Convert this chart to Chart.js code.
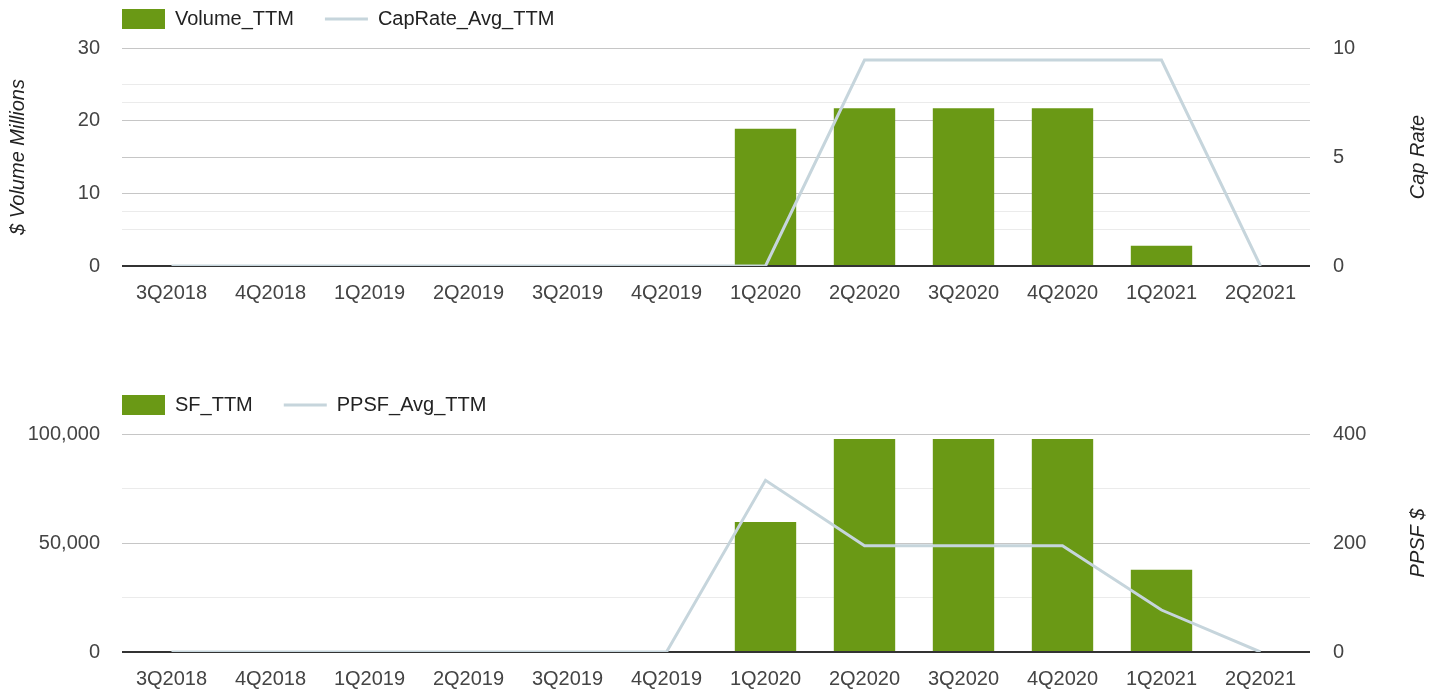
<!DOCTYPE html>
<html>
<head>
<meta charset="utf-8">
<script src="https://cdn.jsdelivr.net/npm/chart.js@4.4.0/dist/chart.umd.min.js"></script>
<style>
    body { margin: 0; background: #fff; overflow: hidden; }
    .wrap { position: absolute; left: 0; width: 1440px; height: 339px; }
    canvas { display: block; }
</style>
</head>
<body>
<div class="wrap" style="top:-13px"><canvas id="volumeChart" width="1440" height="339"></canvas></div>
<div class="wrap" style="top:373px"><canvas id="sfChart" width="1440" height="339"></canvas></div>
<script>
// values
const quarters = ['3Q2018', '4Q2018', '1Q2019', '2Q2019', '3Q2019', '4Q2019',
    '1Q2020', '2Q2020', '3Q2020', '4Q2020', '1Q2021', '2Q2021'];
const volumeTTM = [0, 0, 0, 0, 0, 0, 18.9, 21.7, 21.7, 21.7, 2.8, 0];
const capRateAvgTTM = [0, 0, 0, 0, 0, 0, 0, 9.45, 9.45, 9.45, 9.45, 0];
const sfTTM = [0, 0, 0, 0, 0, 0, 59600, 97700, 97700, 97700, 37700, 0];
const ppsfAvgTTM = [0, 0, 0, 0, 0, 0, 315, 195, 195, 195, 77, 0];

const barColor = '#6a9915';
const lineColor = '#c6d5dc';
const tickColor = '#444';
const textColor = '#222';

Chart.defaults.font.family = "'Liberation Sans', Arial, sans-serif";
Chart.defaults.font.size = 20;

function gridColor(major) {
    return function (ctx) {
        const v = ctx.tick.value;
        if (v === 0) return '#333';
        return v % major === 0 ? '#c6c6c6' : '#ebebeb';
    };
}

function gridWidth(ctx) {
    return ctx.tick.value === 0 ? 2 : 1;
}

// moves the legend to line up with the plot, draws the right axis title bottom-to-top
const layoutPlugin = {
    id: 'layoutTweaks',
    afterLayout: function (chart) {
        chart.legend.left += 91;
        chart.legend.right += 91;
        chart.legend.top -= 9;
        chart.legend.bottom -= 9;
    },
    afterDraw: function (chart) {
        const title = chart.options.plugins.layoutTweaks.rightTitle;
        const ctx = chart.ctx;
        const area = chart.chartArea;
        ctx.save();
        ctx.translate(1418, (area.top + area.bottom) / 2);
        ctx.rotate(-Math.PI / 2);
        ctx.font = "italic 20px 'Liberation Sans', Arial, sans-serif";
        ctx.fillStyle = textColor;
        ctx.textAlign = 'center';
        ctx.textBaseline = 'middle';
        ctx.fillText(title, 0, 0);
        ctx.restore();
    }
};

function makeChart(id, opts) {
    const ctx = document.getElementById(id).getContext('2d');
    return new Chart(ctx, {
        type: 'bar',
        data: {
            labels: quarters,
            datasets: [{
                type: 'bar',
                label: opts.barName,
                data: opts.barData,
                backgroundColor: barColor,
                borderWidth: 0,
                barPercentage: 0.62,
                categoryPercentage: 1,
                yAxisID: 'y',
                order: 2
            }, {
                type: 'line',
                label: opts.lineName,
                data: opts.lineData,
                borderColor: lineColor,
                backgroundColor: lineColor,
                borderWidth: 3,
                pointRadius: 0,
                tension: 0,
                yAxisID: 'y1',
                order: 1
            }]
        },
        options: {
            responsive: false,
            animation: false,
            layout: { padding: { top: 0, right: 0, bottom: 6, left: 0 } },
            plugins: {
                legend: {
                    position: 'top',
                    align: 'start',
                    labels: {
                        usePointStyle: true,
                        pointStyleWidth: 43,
                        boxHeight: 21,
                        padding: 31,
                        color: textColor,
                        font: { size: 20 },
                        generateLabels: function (chart) {
                            const items = Chart.defaults.plugins.legend.labels.generateLabels(chart);
                            items.sort(function (a, b) { return a.datasetIndex - b.datasetIndex; });
                            items.forEach(function (it) {
                                it.pointStyle = it.datasetIndex === 0 ? 'rect' : 'line';
                            });
                            return items;
                        }
                    }
                },
                tooltip: { enabled: false },
                layoutTweaks: { rightTitle: opts.rightTitle }
            },
            scales: {
                x: {
                    grid: { display: false, drawTicks: false },
                    border: { display: false },
                    ticks: { color: tickColor, padding: 15, maxRotation: 0, autoSkip: false }
                },
                y: {
                    position: 'left',
                    min: 0,
                    max: opts.leftMax,
                    afterFit: function (scale) { scale.width = 122; },
                    ticks: {
                        stepSize: opts.leftStep,
                        color: tickColor,
                        padding: 22,
                        callback: function (v) {
                            return v % opts.leftMajor === 0 ? v.toLocaleString('en-US') : '';
                        }
                    },
                    grid: { color: gridColor(opts.leftMajor), lineWidth: gridWidth, drawTicks: false, z: -1 },
                    border: { display: false },
                    title: {
                        display: opts.leftTitle !== '',
                        text: opts.leftTitle,
                        color: textColor,
                        font: { size: 20, style: 'italic' },
                        padding: { top: 6, bottom: 0 }
                    }
                },
                y1: {
                    position: 'right',
                    min: 0,
                    max: opts.rightMax,
                    afterFit: function (scale) { scale.width = 130; },
                    ticks: {
                        stepSize: opts.rightStep,
                        color: tickColor,
                        padding: 23,
                        callback: function (v) {
                            return v % opts.rightMajor === 0 ? v.toLocaleString('en-US') : '';
                        }
                    },
                    grid: { color: gridColor(opts.rightMajor), lineWidth: gridWidth, drawTicks: false },
                    border: { display: false }
                }
            }
        },
        plugins: [layoutPlugin]
    });
}

makeChart('volumeChart', {
    barName: 'Volume_TTM', barData: volumeTTM,
    lineName: 'CapRate_Avg_TTM', lineData: capRateAvgTTM,
    leftMax: 30, leftStep: 5, leftMajor: 10, leftTitle: '$ Volume Millions',
    rightMax: 10, rightStep: 2.5, rightMajor: 5, rightTitle: 'Cap Rate'
});

makeChart('sfChart', {
    barName: 'SF_TTM', barData: sfTTM,
    lineName: 'PPSF_Avg_TTM', lineData: ppsfAvgTTM,
    leftMax: 100000, leftStep: 25000, leftMajor: 50000, leftTitle: '',
    rightMax: 400, rightStep: 100, rightMajor: 200, rightTitle: 'PPSF $'
});
</script>
</body>
</html>
